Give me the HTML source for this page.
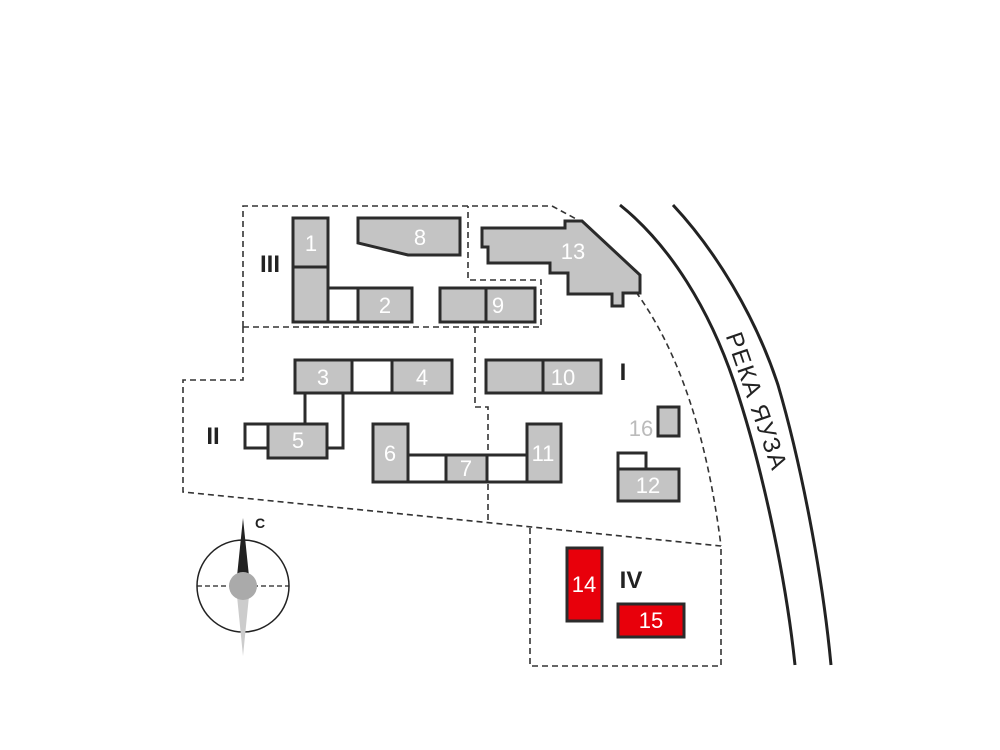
<!DOCTYPE html>
<html><head><meta charset="utf-8"><style>
html,body{margin:0;padding:0;background:#fff;}
svg{display:block;}
.b{fill:#c4c4c4;stroke:#2b2b2b;stroke-width:3;stroke-linejoin:miter;}
.w{fill:#fff;stroke:#2b2b2b;stroke-width:3;}
.r{fill:#e8000b;stroke:#2b2b2b;stroke-width:3;}
.d{fill:none;stroke:#333;stroke-width:1.6;stroke-dasharray:6,4;}
.n{font-family:"Liberation Sans Narrow","Liberation Sans",sans-serif;font-size:22px;fill:#fff;text-anchor:middle;}
.rm{font-family:"Liberation Sans",sans-serif;font-weight:bold;font-size:24px;fill:#222;text-anchor:middle;}
</style></head><body>
<svg width="1000" height="750" viewBox="0 0 1000 750">
<path class="d" d="M243,327 V206 H552 L578,220"/>
<path class="d" d="M243,327 H541 V280 H468 V206"/>
<path class="d" d="M243,327 V380 H183 V492 L721,546"/>
<path class="d" d="M475,327 V407 H488 V520"/>
<path class="d" d="M636,292 Q700,380 721,546"/>
<path class="d" d="M530,528 V666 H721 V546"/>
<path d="M620,205 C670,245 710,310 735,385 C760,460 785,570 795,665" fill="none" stroke="#222" stroke-width="3"/>
<path d="M673,205 C715,250 755,315 778,385 C800,460 822,570 831,665" fill="none" stroke="#222" stroke-width="3"/>
<text transform="translate(755,402) rotate(71)" font-family="Liberation Sans,sans-serif" font-size="24" letter-spacing="1.5" fill="#222" text-anchor="middle" dominant-baseline="middle">РЕКА ЯУЗА</text>
<rect class="b" x="293" y="218" width="35" height="49"/>
<rect class="b" x="293" y="267" width="35" height="55"/>
<rect class="w" x="328" y="288" width="30" height="34"/>
<rect class="b" x="358" y="288" width="54" height="34"/>
<polygon class="b" points="358,218 460,218 460,255 408,255 358,243"/>
<rect class="b" x="440" y="288" width="46" height="34"/>
<rect class="b" x="486" y="288" width="49" height="34"/>
<polygon class="b" points="482,228 565,228 565,221 582,221 640,275 640,293 623,293 623,306 612,306 612,294 568,294 568,273 550,273 550,263 488,263 488,247 482,247"/>
<line x1="305" y1="393" x2="305" y2="424" stroke="#2b2b2b" stroke-width="3"/>
<polyline points="343,393 343,448 327,448" fill="none" stroke="#2b2b2b" stroke-width="3"/>
<rect class="b" x="295" y="360" width="57" height="33"/>
<rect class="w" x="352" y="360" width="40" height="33"/>
<rect class="b" x="392" y="360" width="60" height="33"/>
<rect class="b" x="486" y="360" width="57" height="33"/>
<rect class="b" x="543" y="360" width="58" height="33"/>
<rect class="w" x="245" y="424" width="23" height="24"/>
<rect class="b" x="268" y="424" width="59" height="34"/>
<rect class="w" x="408" y="455" width="38" height="27"/>
<rect class="b" x="446" y="455" width="41" height="27"/>
<rect class="w" x="487" y="455" width="40" height="27"/>
<rect class="b" x="373" y="424" width="35" height="58"/>
<rect class="b" x="527" y="424" width="34" height="58"/>
<rect class="b" x="658" y="407" width="21" height="29"/>
<rect class="w" x="618" y="453" width="28" height="16"/>
<rect class="b" x="618" y="469" width="61" height="32"/>
<rect class="r" x="567" y="548" width="35" height="73"/>
<rect class="r" x="618" y="604" width="66" height="33"/>
<text class="n" x="311" y="251">1</text>
<text class="n" x="385" y="313">2</text>
<text class="n" x="420" y="245">8</text>
<text class="n" x="498" y="313">9</text>
<text class="n" x="573" y="259">13</text>
<text class="n" x="323" y="385">3</text>
<text class="n" x="422" y="385">4</text>
<text class="n" x="563" y="385">10</text>
<text class="n" x="298" y="448">5</text>
<text class="n" x="390" y="461">6</text>
<text class="n" x="466" y="476">7</text>
<text class="n" x="543" y="461">11</text>
<text class="n" x="648" y="493">12</text>
<text class="n" x="641" y="436" style="fill:#bbb">16</text>
<text class="n" x="584" y="592">14</text>
<text class="n" x="651" y="628">15</text>
<text class="rm" x="270" y="272">III</text>
<text class="rm" x="213" y="444">II</text>
<text class="rm" x="623" y="380">I</text>
<text class="rm" x="631" y="588">IV</text>
<circle cx="243" cy="586" r="46" fill="none" stroke="#222" stroke-width="1.5"/>
<line x1="197" y1="586" x2="289" y2="586" stroke="#222" stroke-width="1.3" stroke-dasharray="5,3"/>
<polygon points="243,518 236,586 250,586" fill="#222"/>
<polygon points="243,656 236,586 250,586" fill="#ccc"/>
<circle cx="243" cy="586" r="14" fill="#aaa"/>
<text x="260" y="528" font-family="Liberation Sans,sans-serif" font-weight="bold" font-size="14" fill="#222" text-anchor="middle">С</text>
</svg>
</body></html>
